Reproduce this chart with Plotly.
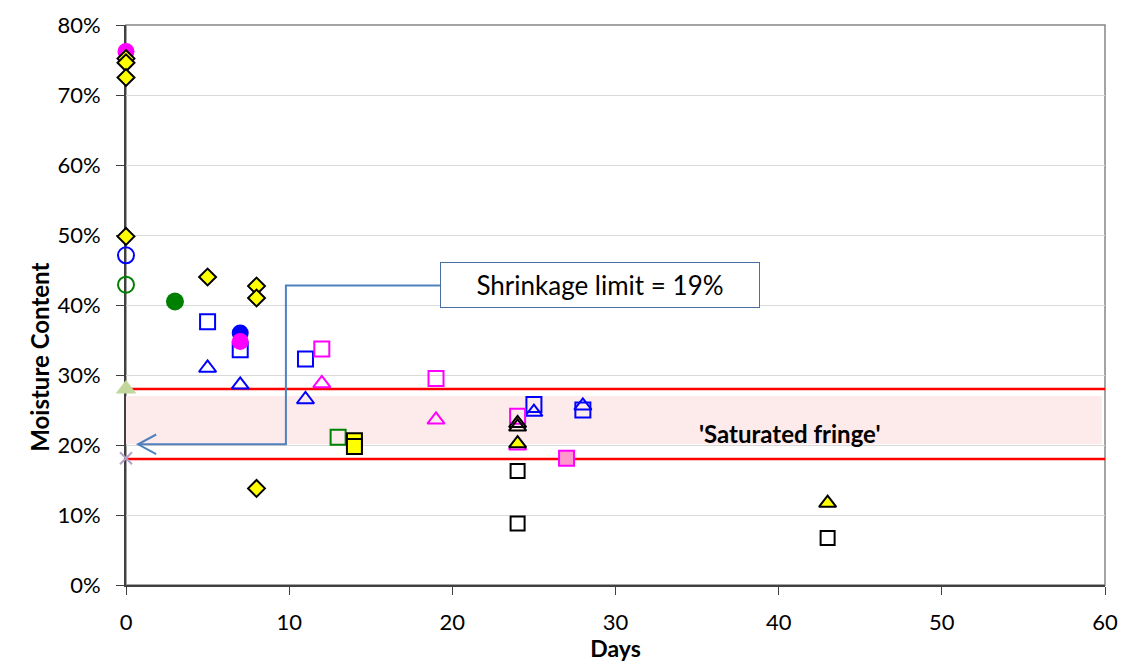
import plotly.graph_objects as go

# ---- data (days, moisture content as fraction) ----
blue_tri_x = [5, 7, 11, 25, 28]
blue_tri_y = [0.310, 0.286, 0.265, 0.247, 0.256]
blue_sq_x = [5, 7, 11, 25, 28]
blue_sq_y = [0.376, 0.336, 0.323, 0.258, 0.250]
blue_circ_open_x = [0]
blue_circ_open_y = [0.471]
blue_circ_x = [7]
blue_circ_y = [0.360]
green_circ_open_x = [0]
green_circ_open_y = [0.429]
green_circ_x = [3]
green_circ_y = [0.405]
green_sq_x = [13]
green_sq_y = [0.211]
mag_tri_x = [12, 19, 24]
mag_tri_y = [0.288, 0.236, 0.199]
mag_sq_x = [12, 19, 24]
mag_sq_y = [0.337, 0.295, 0.241]
pink_sq_x = [27]
pink_sq_y = [0.181]
mag_circ_x = [0, 7]
mag_circ_y = [0.762, 0.348]
yel_dia_x = [0, 0, 0, 0, 5, 8, 8, 8]
yel_dia_y = [0.752, 0.746, 0.725, 0.498, 0.440, 0.427, 0.410, 0.138]
yel_sq_x = [14, 14]
yel_sq_y = [0.206, 0.198]
yel_tri_x = [24, 43]
yel_tri_y = [0.202, 0.117]
blk_tri_x = [24, 24]
blk_tri_y = [0.231, 0.226]
blk_sq_x = [24, 24, 43]
blk_sq_y = [0.163, 0.088, 0.067]
lg_tri_x = [0]
lg_tri_y = [0.280]
x_mark_x = [0]
x_mark_y = [0.181]

upper_limit = 0.28
lower_limit = 0.18
fringe_top = 0.27
fringe_bottom = 0.201
shrinkage_label = "Shrinkage limit = 19%"
fringe_label = "'Saturated fringe'"
x_ticks = [0, 10, 20, 30, 40, 50, 60]
y_ticks = [0, 0.1, 0.2, 0.3, 0.4, 0.5, 0.6, 0.7, 0.8]

FONT = "Lato, Carlito, Calibri, sans-serif"

fig = go.Figure()


def add(xs, ys, symbol, size, fill, line_color, line_width=2):
    fig.add_trace(go.Scatter(
        x=xs, y=ys, mode="markers", cliponaxis=False, showlegend=False,
        marker=dict(symbol=symbol, size=size, color=fill,
                    line=dict(color=line_color, width=line_width))))


add(blue_tri_x, blue_tri_y, "triangle-up-open", 15, "#0000ff", "#0000ff")
add(blue_sq_x, blue_sq_y, "square-open", 15, "#0000ff", "#0000ff")
add(blue_circ_open_x, blue_circ_open_y, "circle-open", 16, "#0000ff", "#0000ff")
add(blue_circ_x, blue_circ_y, "circle", 17, "#0000ff", "#0000ff", 0)
add(green_circ_open_x, green_circ_open_y, "circle-open", 16, "#008000", "#008000")
add(green_circ_x, green_circ_y, "circle", 18, "#008000", "#008000", 0)
add(green_sq_x, green_sq_y, "square-open", 15, "#008000", "#008000")
add(mag_tri_x, mag_tri_y, "triangle-up-open", 15, "#ff00ff", "#ff00ff")
add(mag_sq_x, mag_sq_y, "square-open", 15, "#ff00ff", "#ff00ff")
add(pink_sq_x, pink_sq_y, "square", 15, "#ff99cc", "#ff00ff")
add(mag_circ_x, mag_circ_y, "circle", 17, "#ff00ff", "#ff00ff", 0)
add(yel_dia_x, yel_dia_y, "diamond", 13, "#ffff00", "#000000")
add(yel_sq_x, yel_sq_y, "square", 15, "#ffff00", "#000000")
add(yel_tri_x, yel_tri_y, "triangle-up", 15, "#ffff00", "#000000")
add(blk_tri_x, blk_tri_y, "triangle-up-open", 15, "#000000", "#000000")
add(blk_sq_x, blk_sq_y, "square-open", 14, "#000000", "#000000")
add(lg_tri_x, lg_tri_y, "triangle-up", 18, "#c3d69b", "#c3d69b", 0)
add(x_mark_x, x_mark_y, "x-thin-open", 12, "#b3a2c7", "#b3a2c7")

# plot border (top/right grey)
fig.add_shape(type="rect", xref="paper", yref="paper", x0=0, x1=1, y0=0, y1=1,
              line=dict(color="#868686", width=1.5), layer="below")
# saturated fringe band and limit lines
fig.add_shape(type="rect", x0=-0.2, x1=59.8, y0=fringe_bottom, y1=fringe_top,
              xref="x", yref="y", fillcolor="#fdeaea", line_width=0, layer="below")
for yv in (upper_limit, lower_limit):
    fig.add_shape(type="line", x0=0, x1=60, y0=yv, y1=yv, xref="x", yref="y",
                  line=dict(color="#ff0000", width=2.5), layer="below")

# callout connector (elbow + open arrow head)
arrow_col = "#4f81bd"
fig.add_shape(type="path", xref="x", yref="y",
              path="M 19.24,0.428 L 9.8,0.428 L 9.8,0.201 L 0.74,0.201",
              line=dict(color=arrow_col, width=2))
fig.add_shape(type="path", xref="x", yref="y",
              path="M 1.85,0.215 L 0.74,0.201 L 1.85,0.187",
              line=dict(color=arrow_col, width=2))

fig.add_annotation(x=29.04, y=0.4285, xref="x", yref="y", text=shrinkage_label,
                   showarrow=False, font=dict(family=FONT, size=26, color="#000000"),
                   bgcolor="#ffffff", bordercolor="#4a6fa5", borderwidth=1,
                   width=310, height=36, borderpad=4, align="center")
fig.add_annotation(x=40.7, y=0.216, xref="x", yref="y", text="<b>" + fringe_label + "</b>",
                   showarrow=False, font=dict(family=FONT, size=24, color="#000000"))
fig.add_annotation(x=-0.106, y=0.407, xref="paper", yref="paper",
                   text="<b>Moisture Content</b>", textangle=-90, showarrow=False,
                   font=dict(family=FONT, size=24, color="#000000"))

fig.update_layout(
    width=1124, height=662,
    margin=dict(l=126, r=19, t=25, b=77),
    paper_bgcolor="#ffffff", plot_bgcolor="#ffffff",
    font=dict(family=FONT, size=22, color="#000000"),
    xaxis=dict(range=[0, 60], tickvals=x_ticks, showgrid=False, zeroline=False,
               showline=True, linecolor="#404040", linewidth=2, layer="below traces",
               ticks="outside", ticklen=8, tickcolor="#404040", tickwidth=1,
               ticklabelstandoff=9, automargin=False,
               title=dict(text="<b>Days</b>", standoff=9, font=dict(size=23))),
    yaxis=dict(range=[0, 0.8], tickvals=y_ticks, tickformat=".0%", showgrid=True,
               gridcolor="#d9d9d9", gridwidth=1, zeroline=False, automargin=False,
               showline=True, linecolor="#404040", linewidth=2, layer="below traces",
               ticks="outside", ticklen=8, tickcolor="#404040", tickwidth=1,
               ticklabelstandoff=11),
)

fig.write_html("out.html")
